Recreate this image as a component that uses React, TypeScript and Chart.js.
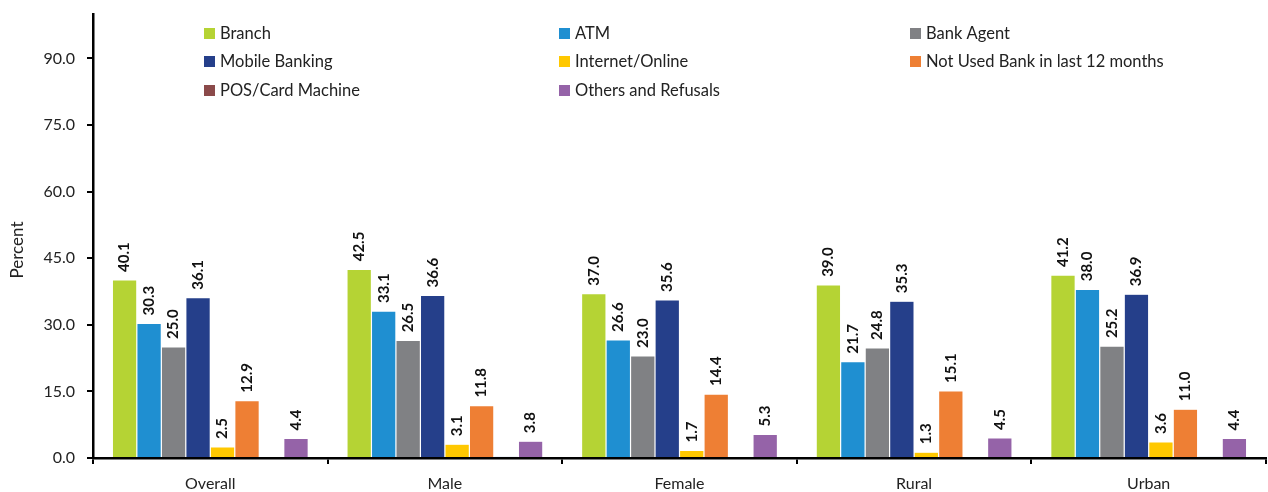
import React, { useEffect, useRef } from "react";
import { Chart, registerables } from "chart.js";

Chart.register(...registerables);

const categories = ["Overall", "Male", "Female", "Rural", "Urban"];
const seriesNames = [
  "Branch",
  "ATM",
  "Bank Agent",
  "Mobile Banking",
  "Internet/Online",
  "Not Used Bank in last 12 months",
  "POS/Card Machine",
  "Others and Refusals",
];
const branch = [40.1, 42.5, 37.0, 39.0, 41.2];
const atm = [30.3, 33.1, 26.6, 21.7, 38.0];
const bankAgent = [25.0, 26.5, 23.0, 24.8, 25.2];
const mobileBanking = [36.1, 36.6, 35.6, 35.3, 36.9];
const internetOnline = [2.5, 3.1, 1.7, 1.3, 3.6];
const notUsed = [12.9, 11.8, 14.4, 15.1, 11.0];
const posCard = [0, 0.3, 0, 0, 0.3];
const others = [4.4, 3.8, 5.3, 4.5, 4.4];
const yTicks = [0, 15, 30, 45, 60, 75, 90];
const yTitle = "Percent";

const colors = ["#b5d334", "#1f8fd1", "#808184", "#253f8a", "#ffc800", "#ee7f34", "#8b4a4a", "#9563a8"];
const barColors = ["#b5d334", "#1f8fd1", "#808184", "#253f8a", "#ffc800", "#ee7f34", "#253f8a", "#9563a8"];
const seriesValues = [branch, atm, bankAgent, mobileBanking, internetOnline, notUsed, posCard, others];

const FONT = "Lato, 'Open Sans', sans-serif";

export default function App() {
  const ref = useRef<HTMLCanvasElement | null>(null);
  useEffect(() => {
    document.body.style.margin = "0";
    const canvas = ref.current;
    if (!canvas) return;

    const labelPlugin = {
      id: "barLabels",
      afterDatasetsDraw(chart: any) {
        const ctx = chart.ctx;
        ctx.save();
        ctx.font = `bold 15px ${FONT}`;
        ctx.fillStyle = "#111";
        chart.data.datasets.forEach((ds: any, di: number) => {
          if (di === 6) return;
          const meta = chart.getDatasetMeta(di);
          meta.data.forEach((bar: any, i: number) => {
            const v = ds.data[i];
            if (!v) return;
            ctx.save();
            ctx.translate(bar.x, bar.y - 8);
            ctx.rotate(-Math.PI / 2);
            ctx.textAlign = "left";
            ctx.textBaseline = "middle";
            ctx.fillText(v.toFixed(1), 0, 0);
            ctx.restore();
          });
        });
        ctx.restore();
      },
    };

    const legendPlugin = {
      id: "gridLegend",
      afterDraw(chart: any) {
        const ctx = chart.ctx;
        const colsX = [204, 559, 910];
        const rowsY = [33, 61, 90];
        ctx.save();
        ctx.font = `16.5px ${FONT}`;
        ctx.textBaseline = "middle";
        ctx.textAlign = "left";
        chart.data.datasets.forEach((ds: any, di: number) => {
          const x = colsX[di % 3];
          const y = rowsY[Math.floor(di / 3)];
          ctx.fillStyle = colors[di];
          ctx.fillRect(x, y - 5, 11, 11);
          ctx.fillStyle = "#222";
          ctx.fillText(ds.label, x + 16, y + 1);
        });
        ctx.save();
        ctx.font = `17px ${FONT}`;
        ctx.translate(18, 250);
        ctx.rotate(-Math.PI / 2);
        ctx.textAlign = "center";
        ctx.textBaseline = "middle";
        ctx.fillStyle = "#222";
        ctx.fillText(yTitle, 0, 0);
        ctx.restore();
        ctx.restore();
      },
    };

    const chart = new Chart(canvas, {
      type: "bar",
      data: {
        labels: categories,
        datasets: seriesNames.map((name, i) => ({
          label: name,
          data: seriesValues[i],
          backgroundColor: barColors[i],
          borderColor: "#ffffff",
          borderWidth: 0.6,
          categoryPercentage: 0.835,
          barPercentage: 1,
        })),
      },
      options: {
        animation: false,
        responsive: false,
        maintainAspectRatio: false,
        layout: { padding: { top: 14, right: 2, left: 0, bottom: 0 } },
        plugins: {
          legend: { display: false },
          tooltip: { enabled: false },
        },
        scales: {
          x: {
            grid: {
              offset: true,
              drawOnChartArea: false,
              drawTicks: true,
              tickLength: 6,
              color: "#000",
              lineWidth: 2,
            },
            border: { color: "#000", width: 2.5 },
            ticks: {
              color: "#222",
              font: { family: FONT, size: 16 },
              padding: 10,
            },
            afterFit(scale: any) {
              scale.height = 34;
              scale.paddingLeft = 0;
              scale.paddingRight = 0;
            },
          },
          y: {
            min: 0,
            max: 100,
            afterBuildTicks(scale: any) {
              scale.ticks = yTicks.map((v) => ({ value: v }));
            },
            grid: {
              drawOnChartArea: false,
              drawTicks: true,
              tickLength: 6,
              color: "#000",
              lineWidth: 2,
            },
            border: { color: "#000", width: 2.5 },
            ticks: {
              color: "#222",
              font: { family: FONT, size: 16 },
              padding: 12,
              callback: (v: any) => Number(v).toFixed(1),
            },
            afterFit(scale: any) {
              scale.width = 93;
              scale.paddingTop = 0;
              scale.paddingBottom = 0;
            },
          },
        },
      },
      plugins: [labelPlugin, legendPlugin],
    });
    return () => chart.destroy();
  }, []);

  return (
    <div style={{ width: 1268, height: 492 }}>
      <canvas ref={ref} width={1268} height={492} style={{ width: 1268, height: 492, display: "block" }} />
    </div>
  );
}
